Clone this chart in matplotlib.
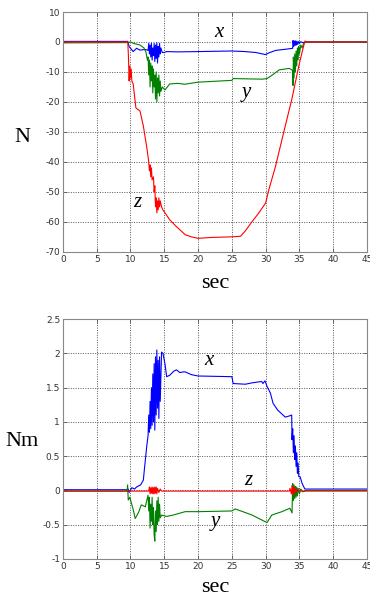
import matplotlib
matplotlib.use('Agg')
import matplotlib.pyplot as plt

plt.rcParams['axes.unicode_minus'] = False

# ---- force (N) ----
t_fx = [0, 9.6, 9.8, 10.4, 10.9, 11.4, 12.2, 12.6,
        12.7, 12.8, 12.9, 13.0, 13.1, 13.2, 13.3, 13.4, 13.5, 13.6, 13.7, 13.8, 13.9, 14.0,
        14.1, 14.2, 14.3, 14.4, 14.5, 14.7,
        15.0, 15.3, 17, 20, 25, 27, 28.5, 30, 30.5, 31.5, 33, 34,
        34.05, 34.15, 34.25, 34.35, 34.45, 34.55, 34.65, 34.75, 34.9, 35.0, 35.2, 35.5, 36, 45]
fx = [0.2, 0.2, -1.5, -3.2, -2.1, -2.7, -2.5, -2.8,
      -0.5, -4, -1, -5, -0.5, -6, -2, -4.5, -0.5, -6.5, -1, -5.5, -0.3, -7,
      -1.5, -5, -0.5, -4, -2, -3.5,
      -3.5, -3.2, -3.3, -3.2, -3.0, -3.2, -3.5, -4.2, -3.6, -2.8, -2.4, -2.1,
      0.5, -1.5, 0.3, -1.2, 0.4, -1.0, 0.2, -0.8, 0.2, -0.5, 0.1, -0.2, 0, 0]

t_fy = [0, 9.6, 10, 10.5, 11.4, 12.0, 12.3, 12.5,
        12.6, 12.7, 12.8, 12.9, 13.0, 13.1, 13.2, 13.3, 13.4, 13.5, 13.6, 13.7, 13.8, 13.9,
        14.0, 14.1, 14.2, 14.3, 14.4, 14.5, 14.7, 15.1, 15.8, 17, 18, 20, 25, 25.2, 29.5,
        30.2, 31, 32, 33.5, 34,
        34.05, 34.1, 34.2, 34.3, 34.4, 34.5, 34.6, 34.7, 34.8, 34.9, 35.0, 35.2, 35.4, 35.6, 36, 45]
fy = [-0.3, -0.2, 0, -0.5, -1, -2, -3.5, -6,
      -5, -11, -6, -15, -7, -13, -8, -17, -9, -15, -11, -19, -10, -20,
      -12, -17, -11, -18, -13, -16.5, -15, -16, -14, -13.8, -14.1, -13.4, -12.8, -12.2, -12.4,
      -12.2, -11, -9.3, -8.8, -9.5,
      -14.5, -5, -12, -4, -10, -3, -8, -2, -6, -1.5, -4, -1, -2, -0.5, 0, 0]

t_fz = [0, 9.6, 9.7, 9.8, 9.9, 10.0, 10.1, 10.2, 10.4, 10.8, 11.4, 11.9, 12.4, 12.7,
        12.8, 12.9, 13.0, 13.1, 13.2, 13.4, 13.5, 13.6, 13.7, 13.8, 13.9, 14.0, 14.1, 14.2,
        14.3, 14.4, 14.6, 14.8, 15.8, 16.8, 18.1, 19, 20, 22, 25, 26.3, 27.0, 27.9, 29, 30,
        30.5, 31.4, 32.9, 33.85, 35, 35.8, 36.2, 45]
fz = [0, 0, -5, -13, -8, -12, -9, -13, -14, -22, -23, -28, -35, -40,
      -43, -41, -45, -42, -46, -45, -50, -48, -55, -52, -57, -53, -56, -52,
      -55, -53, -55, -56, -59.3, -61.6, -64.3, -65, -65.5, -65.2, -65, -64.8, -63, -60.2, -57, -53.7,
      -49, -42, -28, -19.3, -7, 0.3, 0, 0]

# ---- torque (Nm) ----
t_mx = [0, 9.5, 9.67, 9.8, 10.2, 10.6, 10.9, 11.5, 11.9, 12.1, 12.4, 12.6,
        12.7, 12.8, 12.9, 13.0, 13.1, 13.2, 13.3, 13.4, 13.5, 13.6, 13.7, 13.8, 13.9, 14.0,
        14.1, 14.2, 14.3, 14.4, 14.6, 14.8, 15.1, 15.35, 15.8, 16.4, 16.8, 17.3, 17.8, 18.1,
        19, 20, 25, 25.2, 27, 28, 29.4, 29.6, 29.9, 30.2, 30.7, 31.1, 31.8, 32.9, 33.6, 33.85,
        33.9, 34.0, 34.1, 34.2, 34.3, 34.4, 34.5, 34.6, 34.7, 34.8, 34.9, 35.1, 35.4, 35.8, 45]
mx = [0.01, 0.01, 0.02, -0.03, 0.04, 0.02, 0.05, 0.08, 0.15, 0.35, 0.64, 0.8,
      1.1, 0.85, 1.3, 0.9, 1.5, 0.95, 1.7, 1.0, 1.85, 0.88, 1.95, 1.1, 2.05, 1.2,
      1.9, 1.05, 1.95, 1.3, 2.02, 2.0, 1.85, 1.66, 1.68, 1.74, 1.76, 1.72, 1.73, 1.73,
      1.69, 1.67, 1.66, 1.56, 1.55, 1.57, 1.59, 1.56, 1.60, 1.52, 1.42, 1.27, 1.17, 1.07, 1.09, 1.1,
      0.74, 0.9, 0.55, 0.8, 0.45, 0.65, 0.35, 0.55, 0.25, 0.4, 0.2, 0.2, 0.1, 0.02, 0.02]

t_my = [0, 9.5, 9.57, 9.67, 9.9, 10.4, 10.7, 11.2, 11.6, 12.2, 12.4, 12.6,
        12.7, 12.8, 12.9, 13.0, 13.1, 13.2, 13.3, 13.4, 13.5, 13.6, 13.7, 13.8, 13.9, 14.0,
        14.1, 14.2, 14.3, 14.4, 14.6, 15.35, 16.3, 18.1, 20, 25, 25.5, 28, 30.2, 30.9, 32.4,
        33.6, 33.9, 34.0, 34.1, 34.2, 34.3, 34.4, 34.5, 34.6, 34.7, 34.8, 35.0, 35.2, 35.5, 36, 45]
my = [-0.01, -0.01, 0.08, -0.14, -0.1, -0.28, -0.41, -0.32, -0.21, -0.24, -0.15, -0.07,
      -0.3, -0.1, -0.55, -0.2, -0.45, -0.1, -0.5, -0.25, -0.65, -0.74, -0.3, -0.6, -0.15, -0.5,
      -0.1, -0.45, -0.2, -0.4, -0.36, -0.38, -0.36, -0.31, -0.31, -0.3, -0.27, -0.36, -0.47, -0.36, -0.31,
      -0.26, -0.33, 0.1, -0.15, 0.08, -0.12, 0.06, -0.1, 0.05, -0.08, 0.03, -0.05, 0.02, -0.02, 0, 0]

t_mz = [0, 12.7, 12.8, 12.9, 13.0, 13.1, 13.2, 13.3, 13.4, 13.5, 13.6, 13.7, 13.8, 13.9,
        14.0, 14.2, 14.4, 14.6, 33.5, 33.6, 33.8, 33.9, 34.0, 34.1, 34.2, 34.3, 34.5, 34.8,
        35.2, 45]
mz = [-0.01, -0.01, 0.05, -0.05, 0.04, -0.04, 0.05, -0.05, 0.04, -0.05, 0.05, -0.04, 0.05, -0.05,
      0.03, -0.03, 0.02, -0.01, -0.01, 0.03, -0.05, 0.07, -0.06, 0.05, -0.05, 0.04, -0.03, 0.02,
      -0.01, -0.01]

xticks = [0, 5, 10, 15, 20, 25, 30, 35, 40, 45]
yticks_f = [-70, -60, -50, -40, -30, -20, -10, 0, 10]
yticks_m = [-1, -0.5, 0, 0.5, 1, 1.5, 2, 2.5]
ylabels_m = ['-1', '-0.5', '0', '0.5', '1', '1.5', '2', '2.5']

serif = 'Liberation Serif'

fig = plt.figure(figsize=(3.7, 6.01), dpi=100)
ax1 = fig.add_axes([0.170, 0.581, 0.822, 0.399])
ax2 = fig.add_axes([0.170, 0.070, 0.822, 0.399])


def style(ax):
    ax.set_xlim(0, 45)
    ax.set_xticks(xticks)
    ax.grid(True, color='#222222', linestyle=(0, (1.5, 2)), linewidth=0.5)
    ax.tick_params(direction='in', length=3, width=0.6, colors='#555555',
                   labelsize=6.5, labelcolor='#333333', pad=2,
                   top=True, right=True)
    for s in ax.spines.values():
        s.set_color('#888888')
        s.set_linewidth(0.8)


ax1.plot(t_fx, fx, color='#0000ff', lw=0.8)
ax1.plot(t_fy, fy, color='#008000', lw=0.8)
ax1.plot(t_fz, fz, color='#ff0000', lw=0.8)
ax1.set_ylim(-70, 10)
ax1.set_yticks(yticks_f)
style(ax1)
ax1.text(23.1, 3.3, 'x', family=serif, style='italic', fontsize=15, ha='center', va='center')
ax1.text(27.2, -17, 'y', family=serif, style='italic', fontsize=15, ha='center', va='center')
ax1.text(11.0, -53.7, 'z', family=serif, style='italic', fontsize=15, ha='center', va='center')

ax2.plot(t_mx, mx, color='#0000ff', lw=0.8)
ax2.plot(t_my, my, color='#008000', lw=0.8)
ax2.plot(t_mz, mz, color='#ff0000', lw=0.8)
ax2.set_ylim(-1, 2.5)
ax2.set_yticks(yticks_m)
ax2.set_yticklabels(ylabels_m)
style(ax2)
ax2.text(21.6, 1.9, 'x', family=serif, style='italic', fontsize=15, ha='center', va='center')
ax2.text(27.5, 0.15, 'z', family=serif, style='italic', fontsize=15, ha='center', va='center')
ax2.text(22.5, -0.46, 'y', family=serif, style='italic', fontsize=15, ha='center', va='center')

fig.text(22 / 370, 1 - 137 / 601, 'N', family=serif, fontsize=16, ha='center', va='center')
fig.text(215 / 370, 1 - 283 / 601, 'sec', family=serif, fontsize=16, ha='center', va='center')
fig.text(22 / 370, 1 - 442 / 601, 'Nm', family=serif, fontsize=16, ha='center', va='center')
fig.text(215 / 370, 1 - 588 / 601, 'sec', family=serif, fontsize=16, ha='center', va='center')

fig.savefig('out.png', dpi=100)
